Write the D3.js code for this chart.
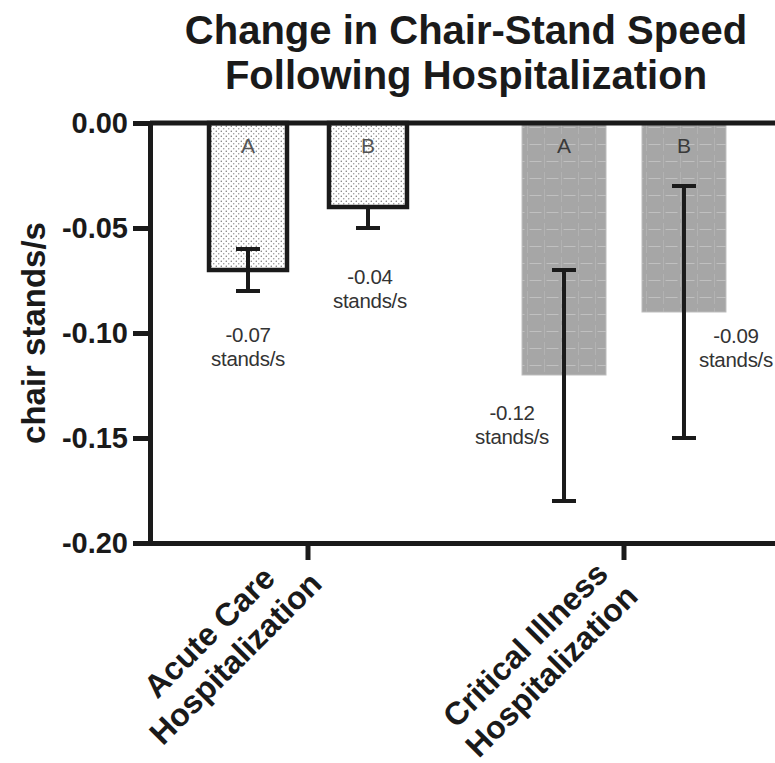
<!DOCTYPE html>
<html>
<head>
<meta charset="utf-8">
<script src="https://cdn.jsdelivr.net/npm/d3@7"></script>
<style>
  html, body { margin: 0; padding: 0; background: #fff; }
  svg { display: block; }
  text { font-family: "Liberation Sans", Arial, Helvetica, sans-serif; }
</style>
</head>
<body>
<svg id="chart" width="775" height="763"></svg>
<script>
// ---------------- data ----------------
const titleLines = ["Change in Chair-Stand Speed", "Following Hospitalization"];
const yLabel = "chair stands/s";
const groups = ["Acute Care Hospitalization", "Critical Illness Hospitalization"];
const groupLabelLines = [["Acute Care", "Hospitalization"], ["Critical Illness", "Hospitalization"]];
const subgroups = ["A", "B"];
const acuteValues = [-0.07, -0.04];
const criticalValues = [-0.12, -0.09];
const acuteErrLow = [-0.08, -0.05];
const acuteErrHigh = [-0.06, null];
const criticalErrLow = [-0.18, -0.15];
const criticalErrHigh = [-0.07, -0.03];
const yTicks = [0, -0.05, -0.10, -0.15, -0.20];
const valueUnit = "stands/s";

// ---------------- layout ----------------
const W = 775, H = 763;
const svg = d3.select("#chart");
const ink = "#1a1a1a";
const loc = d3.formatLocale({decimal: ".", thousands: ",", grouping: [3], currency: ["", ""], minus: "-"});
const fmt = loc.format(".2f");

const y = d3.scaleLinear().domain([0, -0.20]).range([123, 543]);
const x0 = d3.scaleBand().domain(groups).range([150, 782]);
const x1 = d3.scaleBand().domain(subgroups).range([0, x0.bandwidth()])
  .paddingInner(0.3).paddingOuter(0.467);

const series = [
  {group: groups[0], values: acuteValues, lo: acuteErrLow, hi: acuteErrHigh, style: "dots"},
  {group: groups[1], values: criticalValues, lo: criticalErrLow, hi: criticalErrHigh, style: "grid"}
];
const bars = [];
series.forEach(s => subgroups.forEach((sg, i) => bars.push({
  group: s.group, sub: sg, value: s.values[i], lo: s.lo[i], hi: s.hi[i], style: s.style, gi: groups.indexOf(s.group), si: i
})));

// label placement offsets (pixels, relative to the bar end / centre)
const labelOffsets = [
  [{dx: 0, dy: 72}, {dx: 2, dy: 77}],
  [{dx: -52, dy: 45}, {dx: 52, dy: 31}]
];

// ---------------- patterns ----------------
const defs = svg.append("defs");
const pd = defs.append("pattern").attr("id", "dots").attr("patternUnits", "userSpaceOnUse")
  .attr("width", 5).attr("height", 5);
pd.append("rect").attr("width", 5).attr("height", 5).attr("fill", "#fff");
pd.append("circle").attr("cx", 1.25).attr("cy", 1.25).attr("r", 0.7).attr("fill", "#6a6a6a");
pd.append("circle").attr("cx", 3.75).attr("cy", 3.75).attr("r", 0.7).attr("fill", "#8a8a8a");

const pg = defs.append("pattern").attr("id", "grid").attr("patternUnits", "userSpaceOnUse")
  .attr("width", 17).attr("height", 17);
pg.append("rect").attr("width", 17).attr("height", 17).attr("fill", "#a6a6a6");
pg.append("line").attr("x1", 2.5).attr("x2", 14.5).attr("y1", 8.5).attr("y2", 8.5)
  .attr("stroke", "#c0c0c0").attr("stroke-width", 1);
pg.append("line").attr("x1", 0.5).attr("x2", 0.5).attr("y1", 2).attr("y2", 15)
  .attr("stroke", "#b2b2b2").attr("stroke-width", 1);

// ---------------- title ----------------
svg.append("g").selectAll("text").data(titleLines).join("text")
  .attr("x", 466).attr("y", (d, i) => 44 + i * 45)
  .attr("text-anchor", "middle").attr("font-size", 40).attr("font-weight", "bold")
  .attr("fill", ink).text(d => d);

// ---------------- bars ----------------
const gBars = svg.append("g");
gBars.selectAll("rect").data(bars).join("rect")
  .attr("x", d => x0(d.group) + x1(d.sub) + (d.style === "dots" ? 3 : 0))
  .attr("width", d => x1.bandwidth() - (d.style === "dots" ? 6 : 0))
  .attr("y", d => y(0))
  .attr("height", d => y(d.value) - y(0))
  .attr("fill", d => d.style === "dots" ? "url(#dots)" : "url(#grid)")
  .attr("stroke", d => d.style === "dots" ? ink : "#bdbdbd")
  .attr("stroke-width", d => d.style === "dots" ? 4.5 : 1);

// letters in bars
gBars.selectAll("text.sub").data(bars).join("text").attr("class", "sub")
  .attr("x", d => x0(d.group) + x1(d.sub) + x1.bandwidth() / 2)
  .attr("y", 153).attr("text-anchor", "middle").attr("font-size", 21)
  .attr("fill", d => d.style === "dots" ? "#555" : "#3a3a3a").text(d => d.sub);

// ---------------- error bars ----------------
const gErr = svg.append("g").attr("stroke", ink).attr("stroke-width", 4);
const cap = 12;
bars.forEach(d => {
  const cx = x0(d.group) + x1(d.sub) + x1.bandwidth() / 2;
  const top = d.hi == null ? d.value : d.hi;
  gErr.append("line").attr("x1", cx).attr("x2", cx).attr("y1", y(top)).attr("y2", y(d.lo));
  gErr.append("line").attr("x1", cx - cap).attr("x2", cx + cap).attr("y1", y(d.lo)).attr("y2", y(d.lo));
  if (d.hi != null)
    gErr.append("line").attr("x1", cx - cap).attr("x2", cx + cap).attr("y1", y(d.hi)).attr("y2", y(d.hi));
});

// ---------------- value labels ----------------
const gVal = svg.append("g");
bars.forEach(d => {
  const off = labelOffsets[d.gi][d.si];
  const cx = x0(d.group) + x1(d.sub) + x1.bandwidth() / 2 + off.dx;
  const by = y(d.value) + off.dy;
  [fmt(d.value), valueUnit].forEach((t, k) => {
    gVal.append("text").attr("x", cx).attr("y", by + k * 24)
      .attr("text-anchor", "middle").attr("font-size", 20.5).attr("letter-spacing", -0.3)
      .attr("fill", "#333").text(t);
  });
});

// ---------------- axes ----------------
// zero line
svg.append("line").attr("x1", 150).attr("x2", 782).attr("y1", y(0)).attr("y2", y(0))
  .attr("stroke", ink).attr("stroke-width", 5);

const yAxis = svg.append("g").attr("transform", "translate(150,0)")
  .call(d3.axisLeft(y).tickValues(yTicks).tickFormat(fmt).tickSize(17).tickSizeOuter(0).tickPadding(5));
yAxis.select(".domain").attr("stroke", ink).attr("stroke-width", 5).attr("stroke-linecap", "square");
yAxis.selectAll(".tick line").attr("stroke", ink).attr("stroke-width", 5);
yAxis.selectAll(".tick text").attr("font-size", 29).attr("font-weight", "bold").attr("fill", ink)
  .attr("font-family", "'Liberation Sans', Arial, sans-serif");

const xAxis = svg.append("g").attr("transform", `translate(0,${y(-0.20)})`)
  .call(d3.axisBottom(x0).tickSize(17).tickSizeOuter(0).tickFormat(""));
xAxis.select(".domain").attr("stroke", ink).attr("stroke-width", 5);
xAxis.selectAll(".tick line").attr("stroke", ink).attr("stroke-width", 5);

// category labels (rotated -45deg, two centred lines); block placed so its top edge
// sits just below the tick marks
const lineGap = 37;
groups.forEach((g, i) => {
  const tx = x0(g) + x0.bandwidth() / 2;
  const lab = svg.append("g");
  const texts = groupLabelLines[i].map((t, k) =>
    lab.append("text").attr("x", 0).attr("y", k * lineGap)
      .attr("text-anchor", "middle").attr("font-size", 32).attr("font-weight", "bold")
      .attr("fill", ink).text(t));
  const w1 = texts[0].node().getComputedTextLength();
  const ax = tx - 91;
  const ay = 596 + 0.26 * w1;
  lab.attr("transform", `translate(${ax},${ay}) rotate(-45)`);
});

// y label
svg.append("text").attr("transform", `translate(45,${(y(0) + y(-0.20)) / 2}) rotate(-90)`)
  .attr("text-anchor", "middle").attr("font-size", 33).attr("font-weight", "bold")
  .attr("fill", ink).text(yLabel);
</script>
</body>
</html>
